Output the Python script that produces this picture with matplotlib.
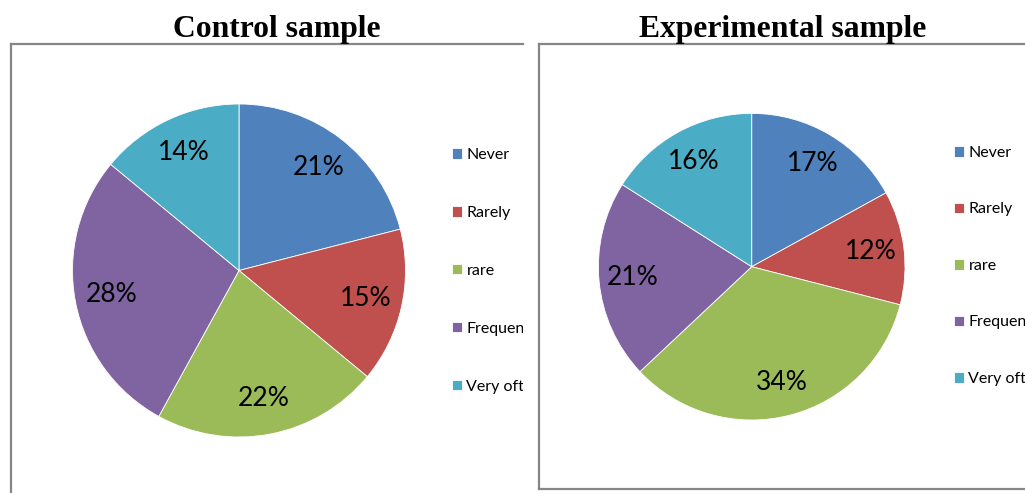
"""
Pie charts: frequency answers in the control and experimental samples.
"""

import matplotlib.pyplot as plt

plt.rcParams['font.family'] = ['Lato', 'DejaVu Sans']

categories = ['Never', 'Rarely', 'rare', 'Frequently', 'Very often']
control_values = [21, 15, 22, 28, 14]
experimental_values = [17, 12, 34, 21, 16]
slice_colors = ['#4F81BD', '#C0504D', '#9BBB59', '#8064A2', '#4BACC6']

W, H = 1025, 493
BORDER = '#868686'


def px_axes(fig, x0, y0, x1, y1):
    # axes placed in pixel units, y measured from the top of the image
    ax = fig.add_axes([x0 / W, (H - y1) / H, (x1 - x0) / W, (y1 - y0) / H])
    return ax


def draw_panel(ax, values, title, cx, cy, r, title_x, legend_x, legend_top,
               spacing, spines):
    wedges, _, pct_texts = ax.pie(
        values, colors=slice_colors, startangle=90, counterclock=False,
        center=(cx, H - cy), radius=r, autopct='%.0f%%', pctdistance=0.78,
        frame=True, wedgeprops=dict(edgecolor='white', linewidth=0.6),
        textprops=dict(fontsize=19, color='black'))

    ax.set_aspect('auto')
    ax.set_xticks([])
    ax.set_yticks([])
    for side, sp in ax.spines.items():
        sp.set_visible(side in spines)
        sp.set_color(BORDER)
        sp.set_linewidth(1.6)

    leg = ax.legend(wedges, categories, loc='upper left',
                    bbox_to_anchor=(legend_x, H - legend_top),
                    bbox_transform=ax.transData, frameon=False,
                    borderpad=0, borderaxespad=0,
                    handlelength=0.63, handleheight=0.63, handletextpad=0.27,
                    labelspacing=spacing, prop=dict(family='Lato', size=11.5))
    # long labels run past the panel edge and get cut there
    for t in leg.get_texts():
        t.set_clip_box(ax.bbox)

    ax.figure.text(title_x / W, (H - 36.7) / H, title, ha='center', va='baseline',
                   family='Liberation Serif', fontweight='bold', fontsize=22.8)


def create_figure():
    fig = plt.figure(figsize=(W / 100, H / 100), dpi=100)

    ax_left = px_axes(fig, 10.5, 43.5, 523, 560)
    draw_panel(ax_left, control_values, 'Control sample',
               cx=239, cy=270.5, r=166.5, title_x=277,
               legend_x=452, legend_top=148, spacing=2.75,
               spines=('left', 'top'))
    ax_left.set_xlim(10.5, 523)
    ax_left.set_ylim(H - 560, H - 43.5)

    ax_right = px_axes(fig, 538.5, 43.5, 1100, 488.5)
    draw_panel(ax_right, experimental_values, 'Experimental sample',
               cx=751.7, cy=266.7, r=153.3, title_x=783,
               legend_x=954, legend_top=146, spacing=2.66,
               spines=('left', 'top', 'bottom'))
    ax_right.set_xlim(538.5, 1100)
    ax_right.set_ylim(H - 488.5, H - 43.5)

    fig.savefig('out.png', dpi=100, facecolor='white')


if __name__ == "__main__":
    create_figure()
